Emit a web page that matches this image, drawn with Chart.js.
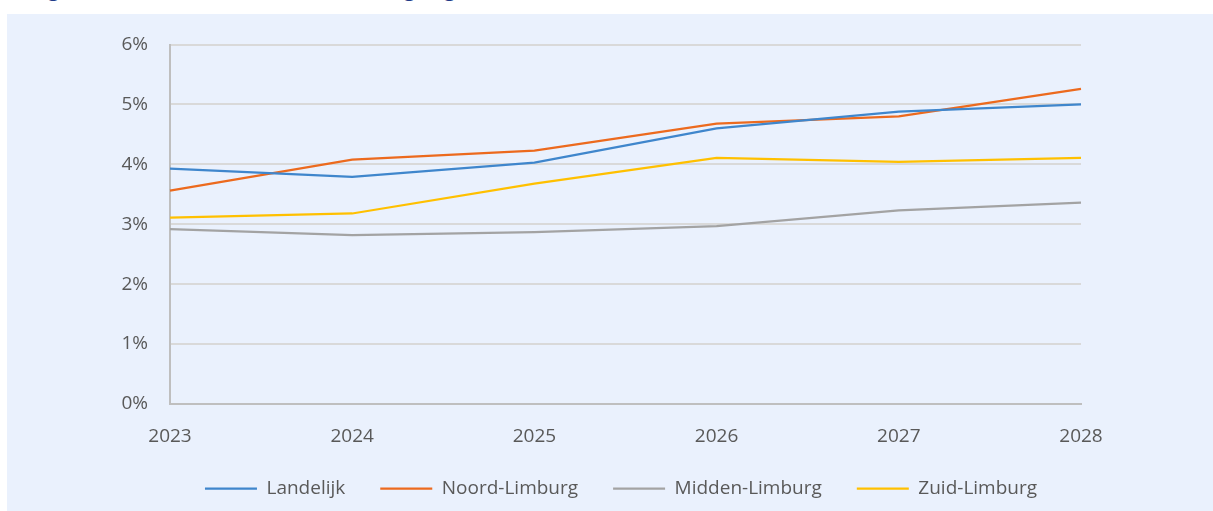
<!DOCTYPE html>
<html lang="nl">
<head>
<meta charset="UTF-8">
<script src="https://cdn.jsdelivr.net/npm/chart.js"></script>
<style>
  body { margin: 0; background: #ffffff; width: 1213px; height: 511px; overflow: hidden; position: relative; }
  #title { position: absolute; left: 30px; top: -24px; font-family: "Open Sans", sans-serif; font-size: 21px; line-height: 24px; color: #1f3c88; white-space: nowrap; word-spacing: 0px; letter-spacing: 0.8px; }
  #panel { position: absolute; left: 7px; top: 14px; width: 1206px; height: 497px; background: #eaf1fd; }
</style>
</head>
<body>
<div id="title">Figuur 5: Werkloosheidsontwikkeling regio</div>
<div id="panel"><canvas id="chart"></canvas></div>
<script>
const years = ['2023', '2024', '2025', '2026', '2027', '2028'];
const landelijk = [3.93, 3.79, 4.03, 4.60, 4.88, 5.00];
const noordLimburg = [3.56, 4.08, 4.23, 4.68, 4.80, 5.26];
const middenLimburg = [2.92, 2.82, 2.87, 2.97, 3.23, 3.36];
const zuidLimburg = [3.11, 3.18, 3.68, 4.11, 4.04, 4.11];
const yTicks = [0, 1, 2, 3, 4, 5, 6];

const textColor = '#595959';
const fontFam = '"Open Sans", sans-serif';

function line(label, data, color) {
  return {
    label: label,
    data: data,
    borderColor: color,
    backgroundColor: color,
    borderWidth: 2.25,
    pointRadius: 0,
    tension: 0
  };
}

new Chart(document.getElementById('chart'), {
  type: 'line',
  data: {
    labels: years,
    datasets: [
      line('Landelijk', landelijk, '#3f86cc'),
      line('Noord-Limburg', noordLimburg, '#ec6a1e'),
      line('Midden-Limburg', middenLimburg, '#a3a3a3'),
      line('Zuid-Limburg', zuidLimburg, '#ffc000')
    ]
  },
  options: {
    responsive: true,
    maintainAspectRatio: false,
    animation: false,
    layout: { padding: { top: 20, right: 0, bottom: 3, left: 22 } },
    plugins: {
      tooltip: { enabled: false },
      legend: {
        position: 'bottom',
        labels: {
          usePointStyle: true,
          pointStyle: 'line',
          pointStyleWidth: 52,
          boxHeight: 2,
          color: textColor,
          padding: 35,
          font: { family: fontFam, size: 19 }
        }
      }
    },
    scales: {
      x: {
        offset: false,
        grid: { display: false, drawOnChartArea: false, drawTicks: true, tickLength: 7, tickColor: '#bfbfbf', tickWidth: 2 },
        border: { display: true, color: '#bfbfbf', width: 2 },
        ticks: { color: textColor, padding: 14, maxRotation: 0, font: { family: fontFam, size: 19 } },
        afterFit: (s) => { s.height = 40; }
      },
      y: {
        min: 0,
        max: 6,
        afterBuildTicks: (s) => { s.ticks = yTicks.map(v => ({ value: v })); },
        grid: { color: '#d9d9d9', lineWidth: 2, drawTicks: false },
        border: { display: true, color: '#bfbfbf', width: 2 },
        ticks: { color: textColor, padding: 22, font: { family: fontFam, size: 19, lineHeight: 0.9 }, callback: (v) => v + '%' },
        afterFit: (s) => { s.width = 141; }
      },
      yRight: {
        type: 'linear',
        position: 'right',
        display: true,
        grid: { display: false },
        border: { display: false },
        ticks: { display: false },
        afterFit: (s) => { s.width = 132; }
      }
    }
  }
});
</script>
</body>
</html>
